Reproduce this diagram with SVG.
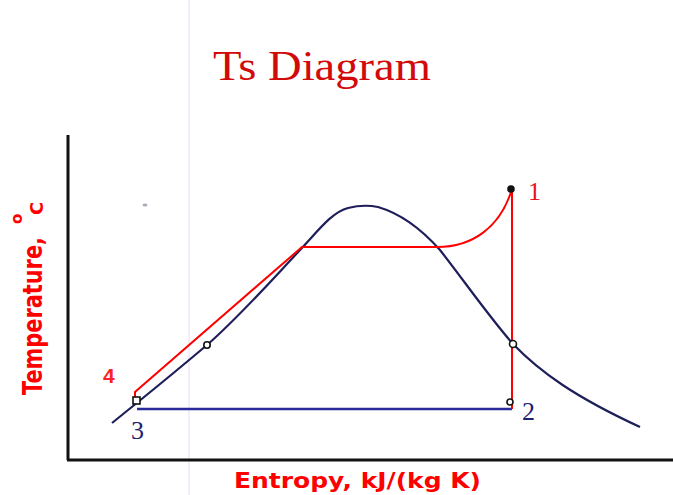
<svg xmlns="http://www.w3.org/2000/svg" width="673" height="495" viewBox="0 0 673 495">
<style>
.axis{stroke:#111;stroke-width:3;fill:none}
.dome{stroke:#1e1e5a;stroke-width:2.2;fill:none;stroke-linejoin:round}
.red{stroke:#ff0000;stroke-width:2;fill:none}
.blue{stroke:#2a2a9a;stroke-width:2.4;fill:none}
.pt{fill:#fff;stroke:#111;stroke-width:1.6}
.lblR{font-family:"Liberation Serif",serif;fill:#e8141c}
.lblB{font-family:"Liberation Serif",serif;fill:#1e2070}
.ax{font-family:"DejaVu Sans",sans-serif;font-weight:bold;fill:#ff0000}
</style>
<rect width="673" height="495" fill="#fff"/>
<line x1="189" y1="0" x2="189" y2="495" stroke="#e6dcf2" stroke-width="1"/>
<text x="213" y="80" font-family="Liberation Serif, serif" font-size="42" fill="#d20a0a" textLength="218" lengthAdjust="spacingAndGlyphs">Ts Diagram</text>
<ellipse cx="145" cy="205" rx="2.5" ry="1.5" fill="#aab"/>
<g id="axes">
<line class="axis" x1="68" y1="135" x2="68" y2="460"/>
<line class="axis" x1="67" y1="460" x2="673" y2="460"/>
</g>
<g id="curves">
<path class="dome" d="M112,423 L138,402 Q175,372 207,345 C240,316 270,282 300,250 C318,231 332,212 348,208 C356,206 368,205 378,207 C402,214 424,232 440,250 C465,282 490,318 513,344 C540,372 575,397 640,427"/>
<line class="blue" x1="137" y1="409" x2="512" y2="409"/>
<path class="red" d="M135,404 L135,392 L302,247 L437,247 C472,247 500,228 512,189 L512,409"/>
</g>
<g id="points">
<rect class="pt" x="133" y="397" width="7" height="7"/>
<circle class="pt" cx="207" cy="345" r="3.2"/>
<circle class="pt" cx="513" cy="344" r="3.5"/>
<circle class="pt" cx="510" cy="402" r="3"/>
<circle cx="511" cy="189" r="3.8" fill="#111"/>
</g>
<g id="labels">
<text x="528" y="200" class="lblR" font-size="26">1</text>
<text x="522" y="420" class="lblB" font-size="26">2</text>
<text x="131" y="439" class="lblB" font-size="26">3</text>
<text x="103" y="383" font-family="Liberation Sans, sans-serif" font-weight="bold" font-size="21" fill="#ff2020">4</text>
<text x="234" y="488" class="ax" font-size="21" textLength="247" lengthAdjust="spacingAndGlyphs">Entropy, kJ/(kg K)</text>
<g transform="translate(42,395) rotate(-90)">
<text x="0" y="0" class="ax" font-size="26" textLength="158" lengthAdjust="spacingAndGlyphs">Temperature,</text>
<text x="171" y="-20" class="ax" font-size="15">o</text>
<text x="180" y="1" class="ax" font-size="18">C</text>
</g>
</g>
</svg>
